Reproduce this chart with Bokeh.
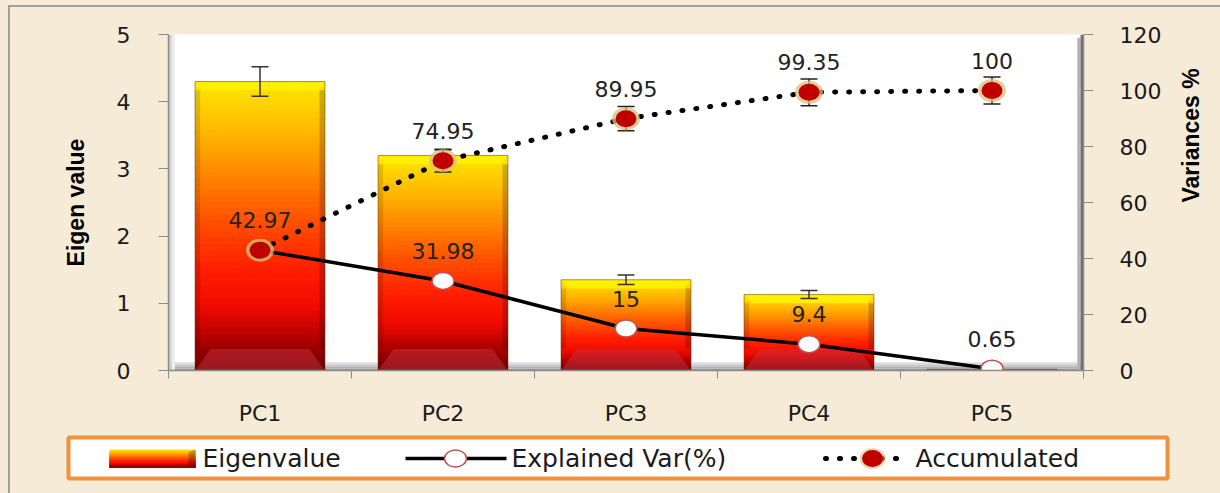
import math
from bokeh.plotting import figure
from bokeh.models import ColumnDataSource, Range1d, FactorRange, LinearAxis, FixedTicker, Div
from bokeh.layouts import column, row
from bokeh.core.properties import value
from bokeh.embed import file_html
from bokeh.resources import INLINE

# ---------------- data ----------------
categories = ["PC1", "PC2", "PC3", "PC4", "PC5"]
eigenvalues = [4.3, 3.2, 1.35, 1.13, 0.02]
eigen_err = [0.22, 0.08, 0.07, 0.06, 0.0]
explained = [42.97, 31.98, 15, 9.4, 0.65]
accumulated = [42.97, 74.95, 89.95, 99.35, 100]
accum_err = [0, 4.1, 4.3, 4.8, 4.8]
left_ticks = [0, 1, 2, 3, 4, 5]
right_ticks = [0, 20, 40, 60, 80, 100, 120]
legend_labels = ["Eigenvalue", "Explained Var(%)", "Accumulated"]

BEIGE = "#F6EBD6"
GRAY = "#A0A0A0"
FONT = "DejaVu Sans"
BAR_W = 0.71

STOPS = [(0.0, (100, 0, 0)), (0.1, (170, 0, 0)), (0.22, (240, 10, 0)), (0.35, (255, 30, 0)),
         (0.5, (255, 75, 0)), (0.65, (255, 125, 0)), (0.8, (255, 175, 0)),
         (0.92, (255, 210, 0)), (1.0, (255, 232, 0))]


def grad(f):
    f = max(0.0, min(1.0, f))
    for (f0, c0), (f1, c1) in zip(STOPS[:-1], STOPS[1:]):
        if f0 <= f <= f1:
            t = (f - f0) / (f1 - f0) if f1 > f0 else 0
            return "#%02x%02x%02x" % tuple(int(round(a + (b - a) * t)) for a, b in zip(c0, c1))
    return "#%02x%02x%02x" % STOPS[-1][1]


fmt = lambda v: "{:g}".format(v)

# ---------------- main figure ----------------
p = figure(width=1210, height=423, x_range=FactorRange(*categories), y_range=Range1d(0, 5),
           output_backend="svg", toolbar_location=None,
           x_axis_location=None, y_axis_location=None)
p.min_border_left = 158
p.min_border_right = 137
p.min_border_top = 27
p.min_border_bottom = 60
p.background_fill_color = "white"
p.border_fill_color = BEIGE
p.outline_line_color = None
p.grid.visible = False
p.extra_y_ranges = {"pct": Range1d(0, 120)}

# axes
xa = LinearAxis(ticker=FixedTicker(ticks=[i + 0.5 for i in range(len(categories))],
                                   minor_ticks=list(range(len(categories) + 1))),
                major_label_overrides={i + 0.5: c for i, c in enumerate(categories)})
xa.major_tick_line_color = None
xa.major_tick_out = 0
xa.major_tick_in = 0
xa.minor_tick_out = 8
xa.minor_tick_in = 0
xa.minor_tick_line_color = "#8C8C8C"
xa.axis_line_color = "#8C8C8C"
xa.axis_line_width = 1.5
xa.major_label_standoff = 22
xa.major_label_text_font = FONT
xa.major_label_text_font_size = "22px"
xa.major_label_text_color = "#1a1a1a"
p.add_layout(xa, "below")

yl = LinearAxis(ticker=FixedTicker(ticks=left_ticks), axis_label="Eigen value")
yr = LinearAxis(y_range_name="pct", ticker=FixedTicker(ticks=right_ticks), axis_label="Variances %")
for ax, ls, als in ((yl, 28, 25), (yr, 26, 27)):
    ax.major_tick_out = 10
    ax.major_tick_in = 0
    ax.major_tick_line_color = "#8C8C8C"
    ax.minor_tick_line_color = None
    ax.axis_line_color = "#8C8C8C"
    ax.axis_line_width = 1.5
    ax.major_label_standoff = ls
    ax.major_label_text_font = FONT
    ax.major_label_text_font_size = "22px"
    ax.major_label_text_color = "#1a1a1a"
    ax.axis_label_standoff = als
    ax.axis_label_text_font = "Liberation Sans"
    ax.axis_label_text_font_style = "bold"
    ax.axis_label_text_font_size = "23px"
    ax.axis_label_text_color = "#000000"
try:
    yr.axis_label_orientation = math.pi / 2
except Exception:
    pass
p.add_layout(yl, "left")
p.add_layout(yr, "right")

# 3D frame decorations (floor and walls)
n = len(categories)
floor_cols = ["#9A9AA2", "#AEAEB4", "#C4C4C8", "#D8D8DA"]
for k, c in enumerate(floor_cols):
    p.quad(left=[0], right=[n], bottom=[0.03 * k], top=[0.03 * (k + 1)], fill_color=c, line_color=None)
p.quad(left=[0], right=[0.018], bottom=[0], top=[5], fill_color="#CFCFCF", line_color=None)
p.quad(left=[0.018], right=[0.035], bottom=[0], top=[5], fill_color="#EDEDED", line_color=None)
p.quad(left=[n - 0.034], right=[n - 0.016], bottom=[0], top=[4.95], fill_color="#B4B4B4", line_color=None)
p.quad(left=[n - 0.016], right=[n], bottom=[0], top=[5], fill_color="#6E6E6E", line_color=None)

# gradient bars: overlapping layers drawn from full height down, so no seams
N = 48
sx, st, sc = [], [], []
for k in range(N - 1, -1, -1):
    for cat, v in zip(categories, eigenvalues):
        sx.append(cat)
        st.append(v * (k + 1) / N)
        sc.append(grad((k + 0.5) / N))
p.vbar(x="x", bottom=0, top="t", width=BAR_W, fill_color="c", line_color=None,
       source=ColumnDataSource(dict(x=sx, t=st, c=sc)))

# bevels
tb_xs, tb_ys, bb_xs, bb_ys = [], [], [], []
ls_l, ls_r, ls_b, ls_t, rs_l, rs_r = [], [], [], [], [], []
for i, v in enumerate(eigenvalues):
    if v < 0.5:
        continue
    l, r = i + 0.5 - BAR_W / 2, i + 0.5 + BAR_W / 2
    th, ti = 0.13, 0.04
    bh, bi = 0.32, 0.085
    tb_xs.append([l, r, r - ti, l + ti]); tb_ys.append([v, v, v - th, v - th])
    bb_xs.append([l, r, r - bi, l + bi]); bb_ys.append([0, 0, bh, bh])
    ls_l.append(l); ls_r.append(l + 0.028); ls_b.append(bh); ls_t.append(v - th)
    rs_l.append(r - 0.03); rs_r.append(r)
p.quad(left=ls_l, right=ls_r, bottom=ls_b, top=ls_t, fill_color="black", fill_alpha=0.12, line_color=None)
p.quad(left=rs_l, right=rs_r, bottom=ls_b, top=ls_t, fill_color="black", fill_alpha=0.2, line_color=None)
p.patches(xs=tb_xs, ys=tb_ys, fill_color="#FFF200", fill_alpha=0.85, line_color=None)
p.patches(xs=bb_xs, ys=bb_ys, fill_color="#C8323E", fill_alpha=0.5, line_color=None)
p.vbar(x=categories, top=eigenvalues, width=BAR_W, fill_color=None, line_color="#6a3000",
       line_alpha=0.5, line_width=1)


def error_bars(cats, vals, errs, rng, color):
    pts = [(c, v - e, v + e) for c, v, e in zip(cats, vals, errs) if e > 0]
    xs = [a[0] for a in pts]
    lo = [a[1] for a in pts]
    hi = [a[2] for a in pts]
    kw = {} if rng is None else {"y_range_name": rng}
    p.segment(x0=xs, y0=lo, x1=xs, y1=hi, line_color=color, line_width=1.5, **kw)
    p.scatter(x=xs + xs, y=lo + hi, marker="dash", size=17, line_color=color, line_width=1.5, **kw)


# bar error bars
error_bars(categories, eigenvalues, eigen_err, None, "#333333")

# lines
p.line(categories, explained, y_range_name="pct", line_color="black", line_width=3.5)
p.line(categories, accumulated, y_range_name="pct", line_color="black", line_width=5,
       line_dash="1 13", line_cap="round")

# accumulated error bars
error_bars(categories, accumulated, accum_err, "pct", "#222222")

# markers
p.ellipse(x=categories, y=explained, width=22, height=17, width_units="screen", height_units="screen",
          y_range_name="pct", fill_color="white", line_color="#C05050", line_width=1.5)
p.ellipse(x=categories, y=accumulated, width=28, height=23, width_units="screen", height_units="screen",
          y_range_name="pct", fill_color="#D8C07A", fill_alpha=0.75, line_color=None)
p.ellipse(x=categories, y=accumulated, width=21, height=17, width_units="screen", height_units="screen",
          y_range_name="pct", fill_color="#C00000", line_color=None)

# data labels
p.text(x=categories, y=explained, text=[fmt(v) for v in explained], y_range_name="pct",
       y_offset=-30, text_align="center", text_baseline="middle", text_font=value(FONT),
       text_font_size="22px", text_color="#222222")
p.text(x=categories[1:], y=accumulated[1:], text=[fmt(v) for v in accumulated[1:]], y_range_name="pct",
       y_offset=-30, text_align="center", text_baseline="middle", text_font=value(FONT),
       text_font_size="22px", text_color="#222222")

# ---------------- legend figure ----------------
leg = figure(width=1210, height=63, x_range=Range1d(0, 1210), y_range=Range1d(63, 0),
             output_backend="svg", toolbar_location=None, min_border=0,
             x_axis_location=None, y_axis_location=None)
leg.min_border_left = 0
leg.min_border_right = 0
leg.min_border_top = 0
leg.min_border_bottom = 0
leg.background_fill_color = BEIGE
leg.border_fill_color = BEIGE
leg.outline_line_color = None
leg.grid.visible = False
leg.quad(left=[58], right=[1157], top=[7], bottom=[48], fill_color="white",
         line_color="#F0913C", line_width=4)
# eigenvalue swatch (gradient, overlapping layers)
M = 18
order = list(range(M - 1, -1, -1))
leg.quad(left=[99] * M, right=[185] * M,
         top=[37 - 18 * (k + 1) / M for k in order], bottom=[37] * M,
         fill_color=[grad((k + 0.5) / M) for k in order], line_color=None)
leg.patches(xs=[[178, 185, 185, 178]], ys=[[22, 19, 37, 34]], fill_color="black", fill_alpha=0.25,
            line_color=None)
# explained swatch
leg.line([395, 496], [28, 28], line_color="black", line_width=3.5)
leg.ellipse(x=[445], y=[28], width=22, height=17, fill_color="white", line_color="#C05050", line_width=1.5)
# accumulated swatch
leg.line([815, 897], [28, 28], line_color="black", line_width=5, line_dash="1 13", line_cap="round")
leg.ellipse(x=[862], y=[28], width=26, height=21, fill_color="#D8C07A", fill_alpha=0.6, line_color=None)
leg.ellipse(x=[862], y=[28], width=21, height=17, fill_color="#C00000", line_color=None)
leg.text(x=[192, 501, 905], y=[28, 28, 28], text=legend_labels, text_align="left",
         text_baseline="middle", text_font=value(FONT), text_font_size="25px", text_color="#1a1a1a")

# ---------------- page layout ----------------
top_pad = Div(text="", width=1220, height=5, margin=0, styles={"background-color": BEIGE})
left_pad = Div(text="", width=8, height=488, margin=0, styles={"background-color": BEIGE})
left_line = Div(text="", width=2, height=488, margin=0, styles={"background-color": GRAY})
top_line = Div(text="", width=1210, height=2, margin=0, styles={"background-color": GRAY})
layout = column(top_pad,
                row(left_pad, left_line,
                    column(top_line, p, row(leg, spacing=0), spacing=0), spacing=0),
                spacing=0)

html = file_html(layout, INLINE, "chart")
html = html.replace("<head>", "<head><style>html,body{margin:0;padding:0;background:%s;}</style>" % BEIGE, 1)
open("out.html", "w").write(html)
